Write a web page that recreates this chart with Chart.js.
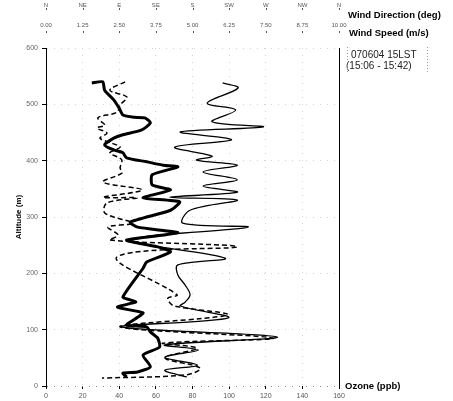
<!DOCTYPE html>
<html>
<head>
<meta charset="utf-8">
<script src="https://cdn.jsdelivr.net/npm/chart.js@4.4.1/dist/chart.umd.min.js"></script>
<style>
  body { margin: 0; background: #fff; }
  canvas { display: block; }
</style>
</head>
<body>
<canvas id="profile-chart" width="453" height="401"></canvas>
<script>
// ozone (ppb) against altitude (m) - thick line
var ozoneAlt = [538,540,525,508,493,481,477,476,467,454,446,440,428,419,414,405,398,392,389,375,357,348,334,327,312,291,282,272,259,247,238,220,209,158,153,149,140,130,122,108,105,96,85,69,55,34,25,23,16];
var ozone    = [25,31,32,37,40,42,48,54,57,52,42,37,32,37,42,44,55,64,72,58,58,68,53,73,68,46,50,72,44,61,68,55,53,42,46,49,39,53,50,44,55,57,61,62,53,57,50,42,44];

// wind speed (m/s) - dashed line
var speedAlt  = [540,525,513,499,486,476,463,458,449,440,431,424,414,406,401,387,378,362,348,335,334,325,307,289,282,268,259,247,229,162,156,144,140,126,105,85,76,67,50,32,20,14];
var windSpeed = [2.70,2.18,2.76,2.53,2.42,1.77,2.01,1.74,2.08,1.84,2.25,2.53,2.18,2.46,2.59,2.53,2.59,1.95,3.28,1.95,3.11,2.08,2.01,2.94,2.12,2.46,2.18,6.52,2.42,4.47,4.16,4.30,4.57,6.18,2.53,7.75,3.99,5.15,4.06,5.26,4.81,1.91];

// wind direction (deg) - thin line
var dirAlt  = [538,529,502,490,469,460,451,437,424,408,401,392,380,366,355,344,335,330,312,289,282,259,227,215,197,179,162,149,142,121,105,87,73,64,51,37,28,16];
var windDir = [217,236,198,233,204,267,165,228,158,204,185,235,193,235,193,235,152,235,177,168,248,103,220,162,162,171,177,171,165,224,93,284,146,187,146,186,146,173];

var dirLabels = ["N", "NE", "E", "SE", "S", "SW", "W", "NW", "N"];

Chart.defaults.font.family = '"Liberation Sans", Arial, sans-serif';

function toPoints(xs, ys) {
  return xs.map(function (v, i) { return { x: v, y: ys[i] }; });
}

// faint dotted grid, a bit darker along the zero line
function gridColor(ctx) {
  return ctx.tick && ctx.tick.value === 0 ? '#888' : '#d2d2d2';
}

var extras = {
  id: 'extras',
  afterDraw: function (chart) {
    var ctx = chart.ctx, a = chart.chartArea;
    ctx.save();

    // right frame line
    ctx.strokeStyle = '#000';
    ctx.lineWidth = 1;
    ctx.beginPath();
    ctx.moveTo(Math.round(a.right) + 0.5, a.top);
    ctx.lineTo(Math.round(a.right) + 0.5, a.bottom);
    ctx.stroke();

    // small tick dots under the top labels
    ctx.strokeStyle = '#555';
    [['xd', 8], ['xs', 31]].forEach(function (s) {
      var scale = chart.scales[s[0]];
      scale.ticks.forEach(function (t) {
        var x = Math.round(scale.getPixelForValue(t.value)) + 0.5;
        ctx.beginPath();
        ctx.moveTo(x, s[1]);
        ctx.lineTo(x, s[1] + 2);
        ctx.stroke();
      });
    });

    ctx.fillStyle = '#000';
    ctx.textBaseline = 'middle';
    ctx.textAlign = 'left';
    ctx.font = 'bold 9.5px "Liberation Sans", Arial';
    ctx.fillText('Wind Direction (deg)', a.right + 9, 15);
    ctx.fillText('Wind Speed (m/s)', a.right + 10, 33);
    ctx.fillText('Ozone (ppb)', a.right + 6, a.bottom);

    ctx.font = '10px "Liberation Sans", Arial';
    ctx.fillStyle = '#222';
    ctx.fillText('070604 15LST', a.right + 12, 55);
    ctx.fillText('(15:06 - 15:42)', a.right + 7, 66);

    // dotted brackets round the time box
    ctx.strokeStyle = '#999';
    ctx.setLineDash([1, 2]);
    ctx.beginPath();
    ctx.moveTo(a.right + 8.5, 47); ctx.lineTo(a.right + 8.5, 72);
    ctx.moveTo(a.right + 88.5, 47); ctx.lineTo(a.right + 88.5, 72);
    ctx.stroke();
    ctx.restore();
  }
};

new Chart(document.getElementById('profile-chart'), {
  type: 'scatter',
  data: {
    datasets: [{
      label: 'Wind Direction',
      data: toPoints(windDir, dirAlt),
      xAxisID: 'xd',
      showLine: true,
      borderColor: '#000',
      borderWidth: 1.3,
      tension: 0.35,
      pointRadius: 0
    }, {
      label: 'Wind Speed',
      data: toPoints(windSpeed, speedAlt),
      xAxisID: 'xs',
      showLine: true,
      borderColor: '#000',
      borderWidth: 1.5,
      borderDash: [5, 3],
      tension: 0.35,
      pointRadius: 0
    }, {
      label: 'Ozone',
      data: toPoints(ozone, ozoneAlt),
      xAxisID: 'x',
      showLine: true,
      borderColor: '#000',
      borderWidth: 3,
      tension: 0.2,
      pointRadius: 0
    }]
  },
  options: {
    responsive: false,
    animation: false,
    devicePixelRatio: 1,
    layout: { padding: { top: 0, left: 0, right: 114, bottom: 0 } },
    plugins: { legend: { display: false }, tooltip: { enabled: false } },
    scales: {
      x: {
        type: 'linear', position: 'bottom', min: 0, max: 160,
        ticks: { stepSize: 20, color: '#555', font: { size: 7 }, padding: 3, maxRotation: 0 },
        grid: { color: gridColor, tickColor: '#000', tickLength: 3 },
        border: { display: false, dash: [1, 6] },
        afterFit: function (s) { s.height = 15; }
      },
      xs: {
        type: 'linear', position: 'top', min: 0, max: 10, weight: 0,
        ticks: { stepSize: 1.25, color: '#555', font: { size: 6 }, padding: 19, maxRotation: 0, autoSkip: false,
          callback: function (v) { return v.toFixed(2); } },
        grid: { display: false, drawTicks: false },
        border: { display: false },
        afterFit: function (s) { s.height = 30; }
      },
      xd: {
        type: 'linear', position: 'top', min: 0, max: 360, weight: 1,
        ticks: { stepSize: 45, color: '#555', font: { size: 6 }, padding: 9, maxRotation: 0, autoSkip: false,
          callback: function (v) { return dirLabels[Math.round(v / 45)]; } },
        grid: { display: false, drawTicks: false },
        border: { display: false },
        afterFit: function (s) { s.height = 18; }
      },
      y: {
        type: 'linear', min: 0, max: 600,
        ticks: { stepSize: 100, color: '#666', font: { size: 7 }, padding: 4 },
        title: { display: true, text: 'Altitude (m)', color: '#000', font: { size: 8, weight: 'bold' }, padding: { top: 14, bottom: 0 } },
        grid: { color: gridColor, tickColor: '#000', tickLength: 4 },
        border: { color: '#000', width: 1, dash: [1, 6] },
        afterFit: function (s) { s.width = 46; }
      }
    }
  },
  plugins: [extras]
});
</script>
</body>
</html>
